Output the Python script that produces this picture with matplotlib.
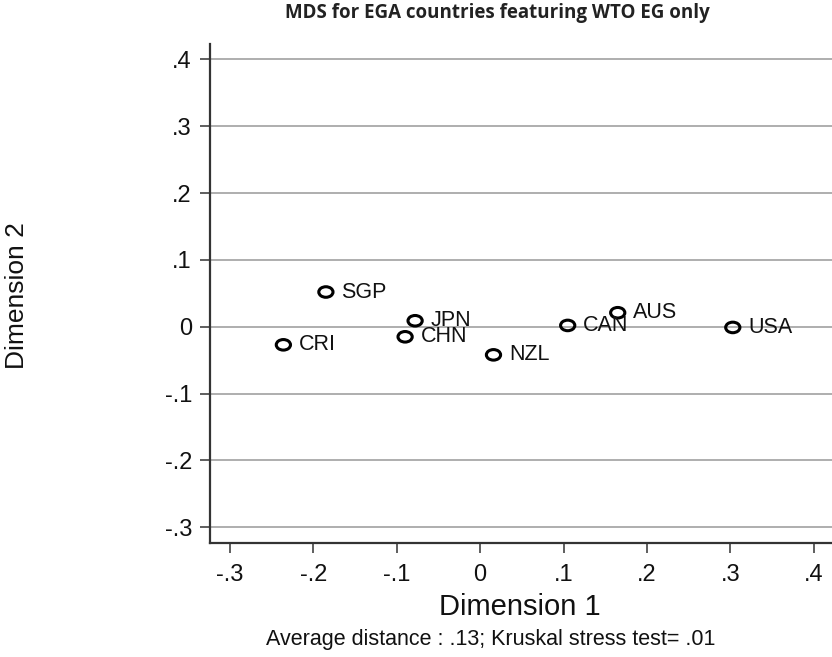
import numpy as np
import matplotlib
matplotlib.use("Agg")
import matplotlib.pyplot as plt
from matplotlib.path import Path

# MDS coordinates
countries = ["SGP", "CRI", "JPN", "CHN", "NZL", "CAN", "AUS", "USA"]
dim1 = [-0.185, -0.236, -0.078, -0.090, 0.016, 0.105, 0.165, 0.303]
dim2 = [0.052, -0.027, 0.009, -0.015, -0.042, 0.002, 0.021, -0.001]

x_ticks = [-0.3, -0.2, -0.1, 0, 0.1, 0.2, 0.3, 0.4]
y_ticks = [-0.3, -0.2, -0.1, 0, 0.1, 0.2, 0.3, 0.4]


def stata_label(v):
    # Stata style: no leading zero
    if abs(v) < 1e-9:
        return "0"
    s = "{:.1f}".format(v)
    return s.replace("0.", ".")


# the reference is stretched sideways, so the hollow circles are ellipses
circ = Path.unit_circle()
ellipse = Path(circ.vertices * np.array([1.35, 1.0]), circ.codes)

plt.rcParams["font.family"] = ["Liberation Sans", "DejaVu Sans"]

fig = plt.figure(figsize=(8.32, 6.57), dpi=100)
ax = fig.add_axes([210 / 832, (657 - 542.7) / 657, 622 / 832, 498.7 / 657])

ax.scatter(dim1, dim2, s=105, marker=ellipse, facecolors="none",
           edgecolors="black", linewidths=2.2, zorder=3)
for name, x, y in zip(countries, dim1, dim2):
    ax.annotate(name, (x, y), xytext=(11, 0), textcoords="offset points",
                va="center", ha="left", fontsize=15.5, color="#111111",
                zorder=4)

ax.set_xlim(-0.324, 0.422)
ax.set_ylim(-0.323, 0.423)
ax.set_xticks(x_ticks)
ax.set_xticklabels([stata_label(v) for v in x_ticks])
ax.set_yticks(y_ticks)
ax.set_yticklabels([stata_label(v) for v in y_ticks])

ax.yaxis.grid(True, color="#a8a8a8", linewidth=1.3)
ax.set_axisbelow(True)
ax.spines["top"].set_visible(False)
ax.spines["right"].set_visible(False)
for sp in ("left", "bottom"):
    ax.spines[sp].set_color("#333333")
    ax.spines[sp].set_linewidth(1.6)
ax.tick_params(axis="both", direction="out", length=7, width=1.1,
               color="#333333", labelsize=17, labelcolor="#111111")
ax.tick_params(axis="x", pad=8)
ax.tick_params(axis="y", pad=6)

fig.text(497 / 832, 1 - 13 / 657, "MDS for EGA countries featuring WTO EG only",
         ha="center", va="center", fontsize=13.5, fontweight="bold",
         family=["Open Sans", "DejaVu Sans"], color="#222222")
fig.text(520 / 832, 1 - 607 / 657, "Dimension 1", ha="center", va="center",
         fontsize=21, color="#111111")
fig.text(17 / 832, 1 - 296 / 657, "Dimension 2", ha="center", va="center",
         rotation=90, fontsize=19, color="#111111")
fig.text(491 / 832, 1 - 639 / 657,
         "Average distance : .13; Kruskal stress test= .01",
         ha="center", va="center", fontsize=15.5, color="#111111")

fig.savefig("out.png", dpi=100, facecolor="white")
